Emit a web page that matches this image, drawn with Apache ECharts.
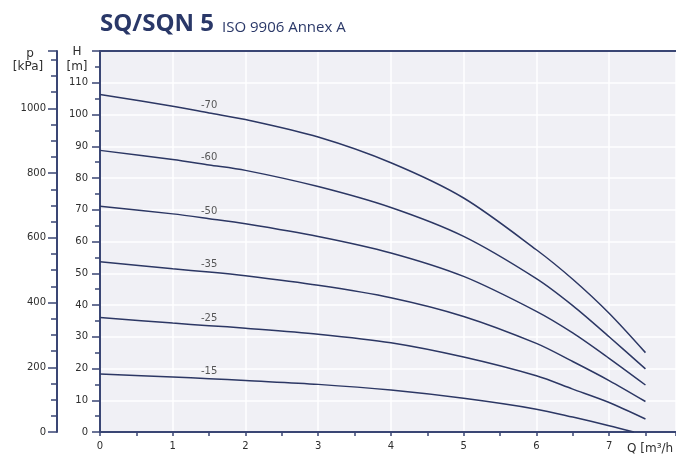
<!DOCTYPE html>
<html><head><meta charset="utf-8">
<script src="https://cdn.jsdelivr.net/npm/echarts@6/dist/echarts.min.js"></script>
<style>html,body{margin:0;padding:0;background:#fff}#c{width:676px;height:461px}</style>
</head><body><div id="c"></div>
<script>
// Flow points (m³/h)
const qPoints = [0, 1, 1.5, 2, 3, 4, 5, 6, 6.5, 7, 7.5];
const qPoints15 = [0, 1, 1.5, 2, 3, 4, 5, 6, 6.5, 7, 7.34];
// Head values (m) per curve
const head70 = [106.3, 102.6, 100.5, 98.4, 92.9, 84.8, 73.7, 57.4, 48.1, 37.4, 25.0];
const head60 = [88.7, 85.8, 84.1, 82.4, 77.3, 70.7, 61.6, 48.3, 39.8, 30.0, 19.9];
const head50 = [71.1, 68.7, 67.2, 65.6, 61.6, 56.4, 49.0, 38.0, 31.2, 23.2, 14.8];
const head35 = [53.6, 51.4, 50.4, 49.2, 46.2, 42.3, 36.4, 27.9, 22.2, 16.2, 9.6];
const head25 = [36.1, 34.3, 33.5, 32.7, 30.8, 28.1, 23.6, 17.7, 13.5, 9.3, 4.1];
const head15 = [18.3, 17.3, 16.8, 16.2, 15.0, 13.2, 10.6, 7.2, 4.7, 2.0, 0];
const curveNames = ['-70', '-60', '-50', '-35', '-25', '-15'];
const curveHeads = [head70, head60, head50, head35, head25, head15];
const curveQs = [qPoints, qPoints, qPoints, qPoints, qPoints, qPoints15];
const labelQ = 1.5;
// Axis ranges
const qMin = 0, qMax = 7.92, qStep = 1;
const hMin = 0, hMax = 120, hStep = 10;
const pFactor = 9.81; // kPa per m
const pStep = 200;

const navy = '#2c3764';
const axisNavy = '#3a4674';
const txt = '#2e2e2e';
const font = 'DejaVu Sans';

const lineSeries = curveNames.map((name, i) => ({
  type: 'line',
  name: name,
  xAxisIndex: 0, yAxisIndex: 0,
  data: curveQs[i].map((q, j) => [q, curveHeads[i][j]]),
  showSymbol: false,
  symbol: 'none',
  smooth: 0.3,
  lineStyle: { color: navy, width: 1.5 },
  silent: true,
  z: 3
}));

const labelSeries = {
  type: 'scatter',
  xAxisIndex: 0, yAxisIndex: 0,
  symbolSize: 1,
  itemStyle: { color: 'rgba(0,0,0,0)' },
  silent: true,
  data: curveNames.map((name, i) => {
    const idx = curveQs[i].indexOf(labelQ);
    return { value: [labelQ, curveHeads[i][idx]], name: name };
  }),
  label: {
    show: true, position: 'top', distance: 2,
    formatter: p => p.name,
    fontFamily: font, fontSize: 10, color: txt
  },
  z: 4
};

const chart = echarts.init(document.getElementById('c'), null, { renderer: 'canvas' });
chart.setOption({
  animation: false,
  backgroundColor: '#ffffff',
  grid: {
    left: 100, right: 0, top: 51, bottom: 29,
    show: true, backgroundColor: '#f0f0f5', borderWidth: 0
  },
  xAxis: [{
    type: 'value', position: 'bottom',
    min: qMin, max: qMax, interval: qStep,
    axisLine: { show: true, onZero: false, lineStyle: { color: axisNavy, width: 2 } },
    axisTick: { show: true, length: 4, lineStyle: { color: axisNavy, width: 1.5 } },
    minorTick: { show: true, splitNumber: 2, length: 4, lineStyle: { color: axisNavy, width: 1.5 } },
    axisLabel: { showMaxLabel: false, margin: 9, fontFamily: font, fontSize: 10, color: txt },
    splitLine: { show: true, lineStyle: { color: '#ffffff', width: 1.5 } }
  }, {
    type: 'value', position: 'top',
    min: qMin, max: qMax, interval: qStep,
    axisLine: { show: true, onZero: false, lineStyle: { color: axisNavy, width: 2 } },
    axisTick: { show: false }, axisLabel: { show: false }, splitLine: { show: false }
  }],
  yAxis: [{
    type: 'value', position: 'left',
    min: hMin, max: hMax, interval: hStep,
    axisLine: { show: true, onZero: false, lineStyle: { color: axisNavy, width: 2 } },
    axisTick: { show: true, length: 8, lineStyle: { color: axisNavy, width: 1.5 } },
    minorTick: { show: true, splitNumber: 2, length: 5, lineStyle: { color: axisNavy, width: 1.5 } },
    axisLabel: { showMaxLabel: false, margin: 12, fontFamily: font, fontSize: 10, color: txt },
    splitLine: { show: true, lineStyle: { color: '#ffffff', width: 1.5 } }
  }, {
    type: 'value', position: 'left', offset: 43,
    min: hMin * pFactor, max: hMax * pFactor, interval: pStep,
    axisLine: { show: true, onZero: false, lineStyle: { color: axisNavy, width: 2 } },
    axisTick: { show: true, length: 9, lineStyle: { color: axisNavy, width: 1.5 } },
    minorTick: { show: true, splitNumber: 4, length: 6, lineStyle: { color: axisNavy, width: 1.5 } },
    axisLabel: { showMaxLabel: false, margin: 11, fontFamily: font, fontSize: 10, color: txt,
      formatter: v => String(Math.round(v)) },
    splitLine: { show: false }
  }],
  graphic: [
    { type: 'text', left: 100, top: 12, style: { text: 'SQ/SQN 5', font: 'bold 24px "Open Sans"', fill: '#2a3868' } },
    { type: 'text', left: 222, top: 20, style: { text: 'ISO 9906 Annex A', font: '15px "Open Sans"', fill: '#2a3868' } },
    { type: 'text', x: 30, y: 54, style: { text: 'p', font: '12px "DejaVu Sans"', fill: txt, textAlign: 'center', textVerticalAlign: 'middle' } },
    { type: 'text', x: 28, y: 67, style: { text: '[kPa]', font: '12px "DejaVu Sans"', fill: txt, textAlign: 'center', textVerticalAlign: 'middle' } },
    { type: 'text', x: 77, y: 52, style: { text: 'H', font: '12px "DejaVu Sans"', fill: txt, textAlign: 'center', textVerticalAlign: 'middle' } },
    { type: 'text', x: 77, y: 67, style: { text: '[m]', font: '12px "DejaVu Sans"', fill: txt, textAlign: 'center', textVerticalAlign: 'middle' } },
    { type: 'text', x: 627, y: 449, style: { text: 'Q [m³/h', font: '12px "DejaVu Sans"', fill: txt, textAlign: 'left', textVerticalAlign: 'middle' } }
  ],
  series: lineSeries.concat([labelSeries])
});
</script>
</body></html>
